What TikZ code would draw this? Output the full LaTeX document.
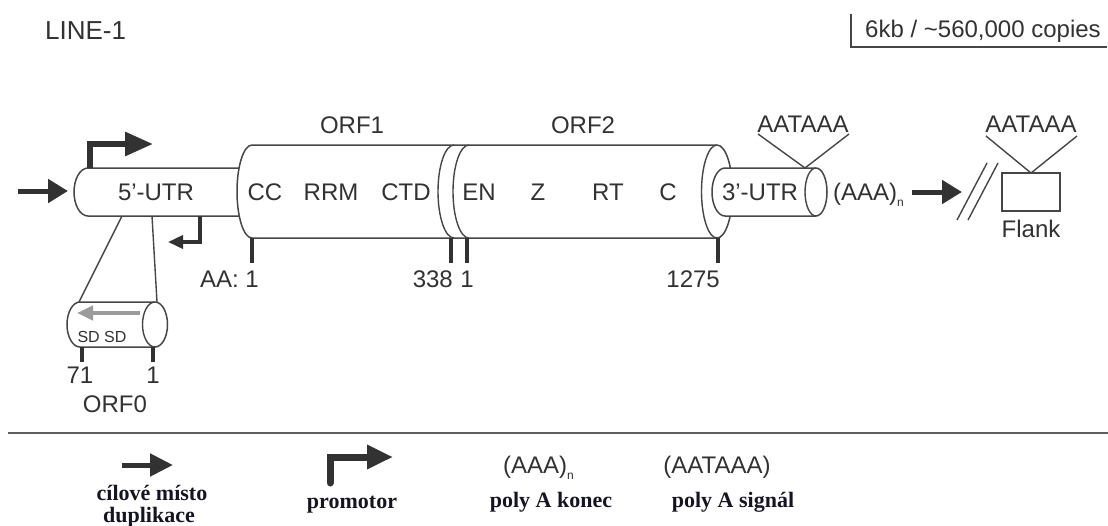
\documentclass[tikz,border=0pt]{standalone}
\usepackage{fontspec}
\setmainfont{Liberation Serif}
\setsansfont{Liberation Sans}
\usepackage{tikz}
\usetikzlibrary{arrows.meta,positioning,calc}
\definecolor{inkcol}{RGB}{50,50,50}
\definecolor{tubecol}{RGB}{70,70,70}
\definecolor{sdcol}{RGB}{155,155,155}
\definecolor{rulecol}{RGB}{95,95,95}
\definecolor{legcol}{RGB}{20,20,35}
\tikzset{
  lbl/.style={font=\sffamily\fontsize{24}{28}\selectfont, text=inkcol, inner sep=0pt, anchor=base},
  smalllbl/.style={font=\sffamily\fontsize{16}{19}\selectfont, text=inkcol, inner sep=0pt, anchor=base},
  legtxt/.style={font=\bfseries\fontsize{22}{22}\selectfont, text=legcol, inner sep=0pt, anchor=base},
  tubeln/.style={draw=tubecol, line width=1.5pt, fill=white},
  thinln/.style={draw=tubecol, line width=1.4pt},
  tickln/.style={draw=inkcol, line width=4pt},
  bigarr/.style={-{Triangle[length=20pt,width=23pt]}, line width=5pt, draw=inkcol},
  promarr/.style={-{Triangle[length=28pt,width=23pt]}, line width=6pt, draw=inkcol},
}
\newcommand{\polyn}{\raisebox{-6pt}{\fontsize{12}{12}\selectfont n}}

\begin{document}
\begin{tikzpicture}[x=1pt, y=-1pt]
    \useasboundingbox (0,0) rectangle (1108,525);
    \node[lbl, anchor=base west, font=\sffamily\fontsize{26}{30}\selectfont] (title) at (45,39) {LINE-1};
    \node[lbl, anchor=base west] (copies) at (865,37) {6kb / \textasciitilde560,000 copies};
    \coordinate (cpa) at (851,14);
    \coordinate (cpb) at (851,47);
    \coordinate (cpc) at (1107,47);
    \draw[thinln] (cpa) -- (cpb) -- (cpc);

    % 5'-UTR and the ORF1/ORF2 body
    \path[tubeln] (88,168) -- (250,168) -- (250,216) -- (88,216)
      arc[start angle=90, end angle=270, x radius=14, y radius=24] -- cycle;
    \path[tubeln] (252,145) arc[start angle=270, end angle=90, x radius=15, y radius=46.5]
      -- (717,238) arc[start angle=90, end angle=-90, x radius=15.5, y radius=46.5] -- cycle;
    \draw[thinln] (717,145) arc[start angle=270, end angle=90, x radius=15.5, y radius=46.5];
    \draw[thinln] (454,145) arc[start angle=270, end angle=90, x radius=16, y radius=46.5];
    \draw[thinln] (469,145) arc[start angle=270, end angle=90, x radius=16, y radius=46.5];
    \path[tubeln] (725,168) -- (816,168) arc[start angle=-90, end angle=90, x radius=11, y radius=24]
      -- (725,216) arc[start angle=90, end angle=270, x radius=13, y radius=24] -- cycle;
    \draw[thinln] (816,168) arc[start angle=270, end angle=90, x radius=11, y radius=24];

    \node[lbl] (utr5) at (156,200) {5'-UTR};
    \node[lbl] (orf1) at (352,133) {ORF1};
    \node[lbl] (orf2) at (583,133) {ORF2};
    \node[lbl] (cc) at (265,200) {CC};
    \node[lbl] (rrm) at (331,200) {RRM};
    \node[lbl] (ctd) at (406,200) {CTD};
    \node[lbl] (en) at (479,200) {EN};
    \node[lbl] (zz) at (538,200) {Z};
    \node[lbl] (rt) at (608,200) {RT};
    \node[lbl] (cterm) at (668,200) {C};
    \node[lbl] (utr3) at (760,200) {3'-UTR};
    \node[lbl, anchor=base west] (polya) at (833,200) {(AAA)\polyn};

    % promoters and target site
    \coordinate (tsd) at (18,191);
    \coordinate (tsdend) at (68,191);
    \draw[bigarr] (tsd) -- (tsdend);
    \coordinate (pro) at (90,168);
    \coordinate (prokink) at (90,144);
    \coordinate (protip) at (153,144);
    \draw[promarr] (pro) -- (prokink) -- (protip);
    \coordinate (apro) at (200,216);
    \coordinate (aprokink) at (200,242);
    \coordinate (aprotip) at (168,242);
    \draw[-{Triangle[length=15pt,width=13pt]}, line width=3.5pt, draw=inkcol] (apro) -- (aprokink) -- (aprotip);

    % amino acid ticks
    \draw[tickln] (252,238) -- (252,263);
    \draw[tickln] (451,238) -- (451,263);
    \draw[tickln] (467,238) -- (467,263);
    \draw[tickln] (718,238) -- (718,263);
    \node[lbl, anchor=base east] (aa1) at (259,287) {AA: 1};
    \node[lbl, anchor=base east] (aa338) at (453,287) {338};
    \node[lbl] (aa2) at (467,287) {1};
    \node[lbl, anchor=base east] (aa1275) at (720,287) {1275};

    % ORF0
    \coordinate (zma) at (122,216);
    \coordinate (zmb) at (152,216);
    \coordinate (zca) at (79,302);
    \coordinate (zcb) at (157,302);
    \draw[thinln] (zma) -- (zca);
    \draw[thinln] (zmb) -- (zcb);
    \path[tubeln] (80,302) -- (155,302) arc[start angle=-90, end angle=90, x radius=12.5, y radius=22.5]
      -- (80,347) arc[start angle=90, end angle=270, x radius=13, y radius=22.5] -- cycle;
    \draw[thinln] (155,302) arc[start angle=270, end angle=90, x radius=12.5, y radius=22.5];
    \draw[-{Triangle[length=16pt,width=14pt]}, line width=4pt, draw=sdcol] (140,313) -- (77,313);
    \node[smalllbl] (sd) at (102,342) {SD SD};
    \draw[tickln] (82,347) -- (82,362);
    \draw[tickln] (153,347) -- (153,362);
    \node[lbl] (orf0a) at (80,383) {71};
    \node[lbl] (orf0b) at (153,383) {1};
    \node[lbl] (orf0) at (115,412) {ORF0};

    % polyA signals and flank
    \node[lbl] (sig1) at (803,132) {AATAAA};
    \coordinate (sga) at (758,134);
    \coordinate (sgm) at (805,168);
    \coordinate (sgb) at (849,134);
    \draw[thinln] (sga) -- (sgm) -- (sgb);
    \coordinate (tail) at (912,192);
    \coordinate (tailend) at (962,192);
    \draw[bigarr] (tail) -- (tailend);
    \draw[thinln] (957,220) -- (987,163);
    \draw[thinln] (968,220) -- (998,163);
    \draw[thinln] (1002,173) rectangle (1060,211);
    \node[lbl] (flank) at (1031,237) {Flank};
    \node[lbl] (sig2) at (1031,132) {AATAAA};
    \coordinate (fla) at (986,136);
    \coordinate (flm) at (1031,173);
    \coordinate (flb) at (1077,136);
    \draw[thinln] (fla) -- (flm) -- (flb);

    % legend
    \draw[draw=rulecol, line width=2.5pt] (8,433) -- (1108,433);
    \coordinate (lga) at (122,465);
    \coordinate (lgb) at (173,465);
    \draw[-{Triangle[length=23pt,width=22pt]}, line width=5pt, draw=inkcol] (lga) -- (lgb);
    \node[legtxt] (lgtsd) at (152,500) {cílové místo};
    \node[legtxt] (lgdup) at (149,522) {duplikace};
    \coordinate (lgp) at (330,483);
    \coordinate (lgpk) at (330,457);
    \coordinate (lgpt) at (393,457);
    \draw[-{Triangle[length=26pt,width=23pt]}, line width=7pt, line cap=round, draw=inkcol] (lgp) -- (lgpk) -- (lgpt);
    \node[legtxt] (lgpro) at (352,508) {promotor};
    \node[lbl, anchor=base west] (lgaaa) at (503,473) {(AAA)\polyn};
    \node[legtxt] (lgend) at (551,507) {poly A konec};
    \node[lbl] (lgsig) at (717,473) {(AATAAA)};
    \node[legtxt] (lgsigt) at (733,507) {poly A signál};
\end{tikzpicture}
\end{document}
